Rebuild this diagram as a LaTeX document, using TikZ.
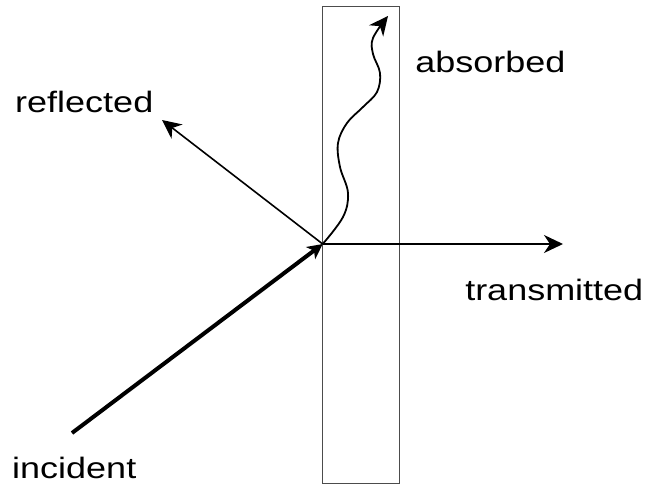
\documentclass[tikz,border=0pt]{standalone}
\usepackage{fontspec}
\setmainfont{Liberation Sans}
\usetikzlibrary{arrows.meta}
\begin{document}
\begin{tikzpicture}[x=1pt,y=-1pt,
  lbl/.style={font=\fontsize{29.5}{34}\selectfont, xscale=1.22, anchor=base west, inner sep=0pt},
  ray/.style={line width=1.6pt, -{Stealth[length=19pt,width=18pt,inset=6pt]}},
  thickray/.style={line width=4pt, -{Stealth[length=15pt,width=15pt,inset=4pt]}},
  slab/.style={draw=black!70, line width=1.4pt, rectangle, inner sep=0pt}]
\useasboundingbox (0,0) rectangle (650,487);
\node[slab, minimum width=77pt, minimum height=477pt, anchor=north west] (slab) at (322,6) {};
\coordinate (O) at (322.7,244);
\coordinate (inc) at (72,433);
\coordinate (refl) at (162,120);
\coordinate (trans) at (563,244);
\coordinate (abs) at (388,16);
\draw[ray] (O) -- (refl);
\draw[ray] (O) -- (trans);
\draw[thickray] (inc) -- (O);
\draw[ray, line width=1.8pt] plot[smooth, tension=0.6] coordinates {(O) (343,217) (348,193) (340,167) (338,143) (347,123) (363,107) (377,92) (380,73) (373,54) (373,38) (abs)};
\node[lbl] (lr) at (15,112) {reflected};
\node[lbl] (la) at (415,73) {absorbed};
\node[lbl] (lt) at (465,300) {transmitted};
\node[lbl] (li) at (12,478) {incident};
\end{tikzpicture}
\end{document}
